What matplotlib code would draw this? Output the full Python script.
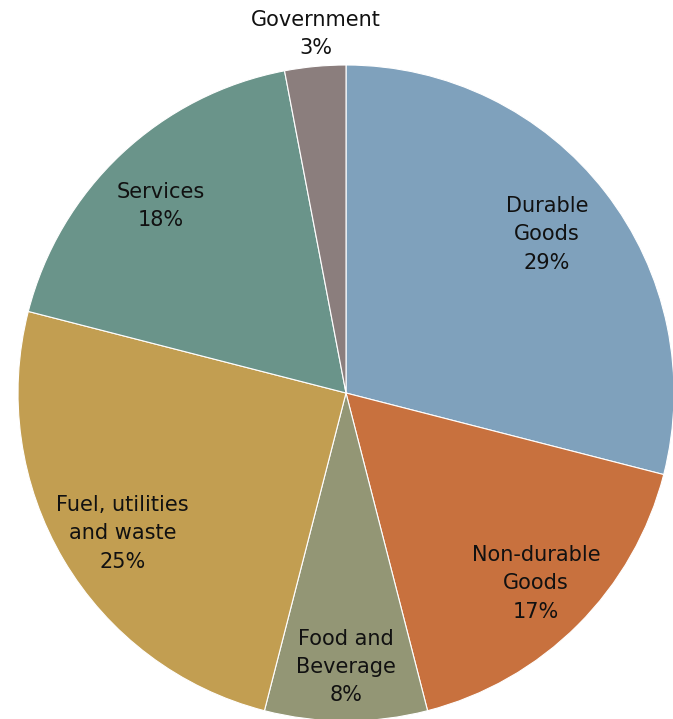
import matplotlib.pyplot as plt
import numpy as np

# Share of total by category, clockwise from 12 o'clock
categories = ['Durable\nGoods', 'Non-durable\nGoods', 'Food and\nBeverage',
              'Fuel, utilities\nand waste', 'Services', 'Government']
shares = [29, 17, 8, 25, 18, 3]
colors = ['#7FA1BC', '#C8713E', '#939675', '#C29E51', '#6A948A', '#8B7E7D']
# radial position of each label, as a fraction of the radius,
# plus a small nudge (px) for a few of them
label_dist = [0.775, 0.82, 0.835, 0.805, 0.81, 1.1]
label_nudge = [(0, 3), (0, 0), (0, 0), (4, -6), (-3, -7), (4, 0)]

W, H = 673, 719
fig = plt.figure(figsize=(W / 100, H / 100), dpi=100)
ax = fig.add_axes([0, 0, 1, 1])

cx, cy, R = 346, H - 393, 328
wedges, _ = ax.pie(shares, colors=colors, startangle=90, counterclock=False,
                   center=(cx, cy), radius=R, frame=True,
                   wedgeprops=dict(edgecolor='white', linewidth=0.8))
ax.set_xlim(0, W)
ax.set_ylim(0, H)
ax.set_aspect('equal')
ax.axis('off')

for w, name, val, d, (nx, ny) in zip(wedges, categories, shares,
                                     label_dist, label_nudge):
    ang = np.deg2rad((w.theta1 + w.theta2) / 2)
    x = cx + d * R * np.cos(ang) + nx
    y = cy + d * R * np.sin(ang) + ny
    ax.text(x, y, f'{name}\n{val}%', ha='center', va='center',
            fontsize=15, linespacing=1.52, color='#111111',
            family='DejaVu Sans')

fig.savefig('out.png', dpi=100)
